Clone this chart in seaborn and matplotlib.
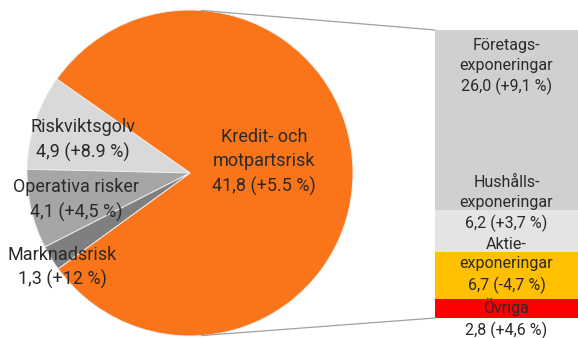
import matplotlib
matplotlib.use("Agg")
import matplotlib.pyplot as plt
from matplotlib.patches import ConnectionPatch
import numpy as np
import pandas as pd
import seaborn as sns

# ---- data ----
pie_labels = ["Kredit- och\nmotpartsrisk\n41,8 (+5.5 %)", "Riskviktsgolv\n4,9 (+8.9 %)",
              "Operativa risker\n4,1 (+4,5 %)", "Marknadsrisk\n1,3 (+12 %)"]
pie_values = [41.8, 4.9, 4.1, 1.3]
pie_colors = ["#FA7419", "#D9D9D9", "#A6A6A6", "#7F7F7F"]

bar_labels = ["Företags-\nexponeringar\n26,0 (+9,1 %)", "Hushålls-\nexponeringar\n6,2 (+3,7 %)",
              "Aktie-\nexponeringar\n6,7 (-4,7 %)", "Övriga\n2,8 (+4,6 %)"]
bar_values = [26.0, 6.2, 6.7, 2.8]
bar_colors = ["#D0D0D0", "#E4E4E4", "#FFC000", "#FF0000"]

sns.set_theme(style="white")
plt.rcParams['font.family'] = ['Roboto', 'DejaVu Sans']

W, H = 578, 338
fig = plt.figure(figsize=(W / 100, H / 100), dpi=100)

# pie axes: centre (190,173) radius 163 px
cx, cy, r = 190, 173, 163
ax_pie = fig.add_axes([(cx - r) / W, (H - cy - r) / H, 2 * r / W, 2 * r / H])
start = -144.0
ax_pie.pie(pie_values, colors=pie_colors, startangle=start, counterclock=True,
           wedgeprops=dict(edgecolor="#EDEDED", linewidth=0.7), radius=1.0)
ax_pie.set_xlim(-1, 1)
ax_pie.set_ylim(-1, 1)
ax_pie.set_aspect("auto")
ax_pie.axis("off")

pie_label_pos = [(0.454, 0.067), (-0.656, 0.20), (-0.70, -0.166), (-0.785, -0.58)]
for lab, (x, y) in zip(pie_labels, pie_label_pos):
    ax_pie.text(x, y, lab, ha="center", va="center", fontsize=13, color="#2A2A2A",
                linespacing=1.45)

# bar axes
bx0, by0, bx1, by1 = 435, 30, 578, 318
ax_bar = fig.add_axes([bx0 / W, (H - by1) / H, (bx1 - bx0) / W, (by1 - by0) / H])
cum = np.cumsum(bar_values[::-1])[::-1]
total = cum[0]
for c, col in zip(cum, bar_colors):
    df = pd.DataFrame({"x": ["b"], "v": [c]})
    sns.barplot(data=df, x="x", y="v", color=col, width=1.0, ax=ax_bar,
                saturation=1, linewidth=0)
ax_bar.set_xlim(-0.5, 0.5)
ax_bar.set_ylim(0, total)
ax_bar.axis("off")

bar_label_y = [36.4, 16.56, 7.64, -0.1]
for lab, y in zip(bar_labels, bar_label_y):
    ax_bar.text(0.0, y, lab, ha="center", va="center", fontsize=11.5, color="#2A2A2A",
                linespacing=1.4, clip_on=False)

# connector lines
for ang, yb in [(86, total), (-86, 0)]:
    a = np.deg2rad(ang)
    con = ConnectionPatch(xyA=(np.cos(a), np.sin(a)), coordsA=ax_pie.transData,
                          xyB=(-0.5, yb), coordsB=ax_bar.transData,
                          color="#A0A0A0", linewidth=0.9)
    fig.add_artist(con)

fig.savefig("out.png", dpi=100)
